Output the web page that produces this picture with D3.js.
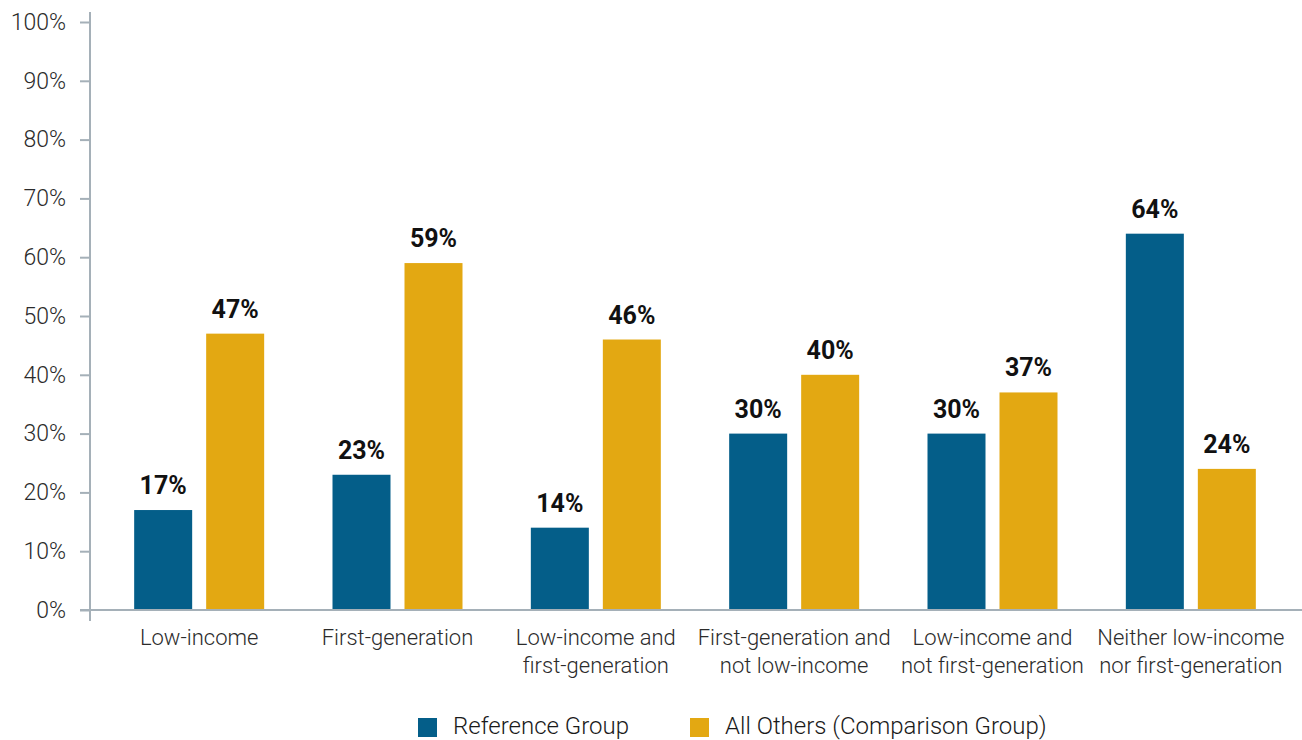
<!DOCTYPE html>
<html>
<head>
<meta charset="utf-8">
<script src="https://cdn.jsdelivr.net/npm/d3@7"></script>
<style>
  html, body { margin: 0; padding: 0; background: #fff; }
  svg text { font-family: "Roboto", "Liberation Sans", sans-serif; }
</style>
</head>
<body>
<svg id="chart" width="1302" height="740"></svg>
<script>
const categories = [
  ["Low-income"],
  ["First-generation"],
  ["Low-income and", "first-generation"],
  ["First-generation and", "not low-income"],
  ["Low-income and", "not first-generation"],
  ["Neither low-income", "nor first-generation"]
];
const seriesNames = ["Reference Group", "All Others (Comparison Group)"];
const referenceValues = [17, 23, 14, 30, 30, 64];
const comparisonValues = [47, 59, 46, 40, 37, 24];
const yTicks = [0, 10, 20, 30, 40, 50, 60, 70, 80, 90, 100];
const colors = ["#045e89", "#e3a812"];

const series = [referenceValues, comparisonValues];
const svg = d3.select("#chart");

const y = d3.scaleLinear().domain([0, 100]).range([610, 22]);
const x0 = d3.scaleBand().domain(d3.range(categories.length)).range([100, 1290]).padding(0);
const x1 = d3.scaleBand().domain([0, 1])
  .range([x0.bandwidth() / 2 - 65, x0.bandwidth() / 2 + 65])
  .paddingInner(0.1944).paddingOuter(0);

const axisColor = "#a5b0b8";

// y axis
const yAxis = svg.append("g").attr("transform", "translate(90,0)")
  .call(d3.axisLeft(y).tickValues(yTicks).tickSize(10).tickPadding(14).tickFormat(d => d + "%"));
yAxis.select(".domain").remove();
yAxis.selectAll(".tick line").attr("stroke", axisColor).attr("stroke-width", 2);
yAxis.selectAll(".tick text").attr("fill", "#2b2b2b")
  .style("font-size", "23px").style("font-weight", "300");
svg.append("line").attr("x1", 90).attr("x2", 90).attr("y1", 12).attr("y2", 621)
  .attr("stroke", axisColor).attr("stroke-width", 2);

// bars
const groups = svg.append("g").selectAll("g").data(categories).join("g")
  .attr("transform", (d, i) => `translate(${x0(i)},0)`);

groups.each(function(cat, i) {
  const g = d3.select(this);
  series.forEach((vals, s) => {
    const v = vals[i];
    g.append("rect")
      .attr("x", x1(s)).attr("width", x1.bandwidth())
      .attr("y", y(v)).attr("height", y(0) - y(v))
      .attr("fill", colors[s]);
    g.append("text")
      .attr("x", x1(s) + x1.bandwidth() / 2).attr("y", y(v) - 16)
      .attr("text-anchor", "middle").attr("fill", "#111")
      .style("font-size", "25px").style("font-weight", "bold")
      .text(v + "%");
  });
  const t = g.append("text").attr("text-anchor", "middle").attr("fill", "#2b2b2b")
    .style("font-size", "22px").style("font-weight", "300");
  cat.forEach((line, k) => {
    t.append("tspan").attr("x", x0.bandwidth() / 2).attr("y", 645 + k * 28).text(line);
  });
});

// x axis baseline
svg.append("line").attr("x1", 80).attr("x2", 1302).attr("y1", 610).attr("y2", 610)
  .attr("stroke", axisColor).attr("stroke-width", 2);

// legend
const legendX = [418, 690];
seriesNames.forEach((name, s) => {
  svg.append("rect").attr("x", legendX[s]).attr("y", 718).attr("width", 19).attr("height", 19)
    .attr("fill", colors[s]);
  svg.append("text").attr("x", legendX[s] + 35).attr("y", 734)
    .attr("fill", "#1a1a1a").style("font-size", "24px").style("font-weight", "300").text(name);
});
</script>
</body>
</html>
